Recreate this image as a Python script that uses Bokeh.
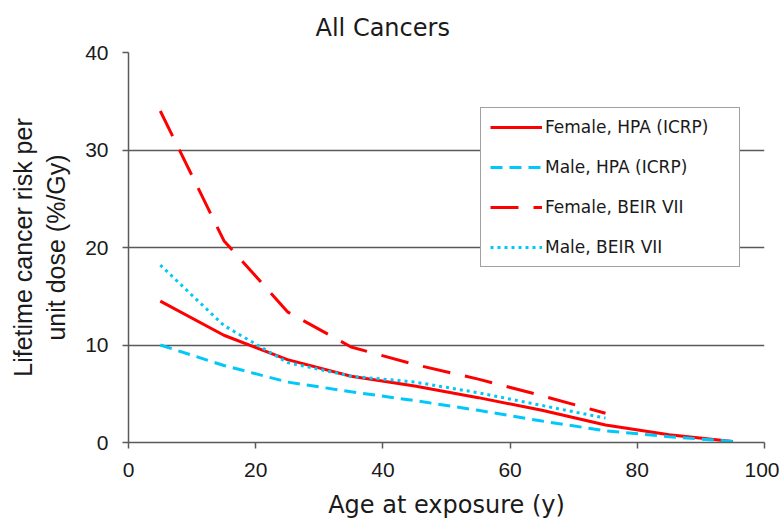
from bokeh.plotting import figure
from bokeh.models import Range1d, FixedTicker, Legend, LegendItem
from bokeh.embed import file_html
from bokeh.resources import INLINE

ages_full = [5, 15, 25, 35, 45, 55, 65, 75, 85, 95]
ages_beir = [5, 15, 25, 35, 45, 55, 65, 75]
female_hpa = [14.5, 11.0, 8.5, 6.8, 5.8, 4.6, 3.3, 1.8, 0.8, 0.1]
male_hpa = [10.0, 7.9, 6.2, 5.2, 4.3, 3.3, 2.2, 1.2, 0.6, 0.1]
female_beir = [34.0, 20.7, 13.4, 9.8, 8.0, 6.5, 4.8, 3.0]
male_beir = [18.2, 12.0, 8.2, 6.8, 6.2, 5.1, 3.8, 2.5]
x_ticks = [0, 20, 40, 60, 80, 100]
y_ticks = [0, 10, 20, 30, 40]

RED = "#FF0000"
CYAN = "#00C8F8"
GRID = "#5a5a5a"
TXT = "#1a1a1a"

p = figure(width=779, height=521, output_backend="svg", toolbar_location=None,
           x_range=Range1d(0, 100), y_range=Range1d(0, 40),
           min_border_left=128, min_border_right=15, min_border_top=51, min_border_bottom=78,
           title="All Cancers")
p.title.text_font = "DejaVu Sans"
p.title.text_font_size = "24px"
p.title.text_font_style = "normal"
p.title.text_color = TXT
p.title.align = "left"
p.title.offset = 187
p.title.standoff = 22
p.outline_line_color = None
p.background_fill_color = "white"
p.border_fill_color = "white"

r1 = p.line(ages_full, female_hpa, line_color=RED, line_width=3)
r2 = p.line(ages_full, male_hpa, line_color=CYAN, line_width=3, line_dash="12 7")
r3 = p.line(ages_beir, female_beir, line_color=RED, line_width=3, line_dash="28 15")
r4 = p.line(ages_beir, male_beir, line_color=CYAN, line_width=3, line_dash="3 4")

p.xgrid.visible = False
p.ygrid.ticker = FixedTicker(ticks=y_ticks)
p.ygrid.grid_line_color = GRID
p.ygrid.grid_line_width = 1.5

for ax in (p.xaxis[0], p.yaxis[0]):
    ax.axis_line_color = GRID
    ax.axis_line_width = 1.5
    ax.major_tick_line_color = GRID
    ax.major_tick_line_width = 1.5
    ax.major_tick_in = 0
    ax.major_tick_out = 6
    ax.minor_tick_line_color = None
    ax.major_label_text_font = "Liberation Sans"
    ax.major_label_text_font_size = "21px"
    ax.major_label_text_color = TXT
    ax.axis_label_text_font_style = "normal"
    ax.axis_label_text_color = TXT

p.xaxis[0].ticker = FixedTicker(ticks=x_ticks)
p.yaxis[0].ticker = FixedTicker(ticks=y_ticks)
p.xaxis[0].axis_label = "Age at exposure (y)"
p.xaxis[0].axis_label_text_font = "DejaVu Sans"
p.xaxis[0].axis_label_text_font_size = "24px"
p.yaxis[0].axis_label = "Lifetime cancer risk per\nunit dose (%/Gy)"
p.yaxis[0].axis_label_text_font = "Liberation Sans"
p.yaxis[0].axis_label_text_font_size = "25px"
p.xaxis[0].major_label_standoff = 14
p.xaxis[0].axis_label_standoff = 11
p.yaxis[0].major_label_standoff = 14
p.yaxis[0].axis_label_standoff = 12

legend = Legend(items=[
    LegendItem(label="Female, HPA (ICRP)", renderers=[r1]),
    LegendItem(label="Male, HPA (ICRP)", renderers=[r2]),
    LegendItem(label="Female, BEIR VII", renderers=[r3]),
    LegendItem(label="Male, BEIR VII", renderers=[r4]),
], location=(352, 175))
legend.label_text_font = "DejaVu Sans"
legend.label_text_font_size = "17px"
legend.label_text_color = TXT
legend.glyph_width = 52
legend.glyph_height = 20
legend.label_height = 20
legend.label_width = 185
legend.label_standoff = 3
legend.spacing = 20
legend.padding = 9
legend.margin = 0
legend.border_line_color = "#444444"
legend.border_line_width = 1.5
legend.background_fill_alpha = 1.0
p.add_layout(legend)

open("out.html", "w").write(file_html(p, INLINE))
